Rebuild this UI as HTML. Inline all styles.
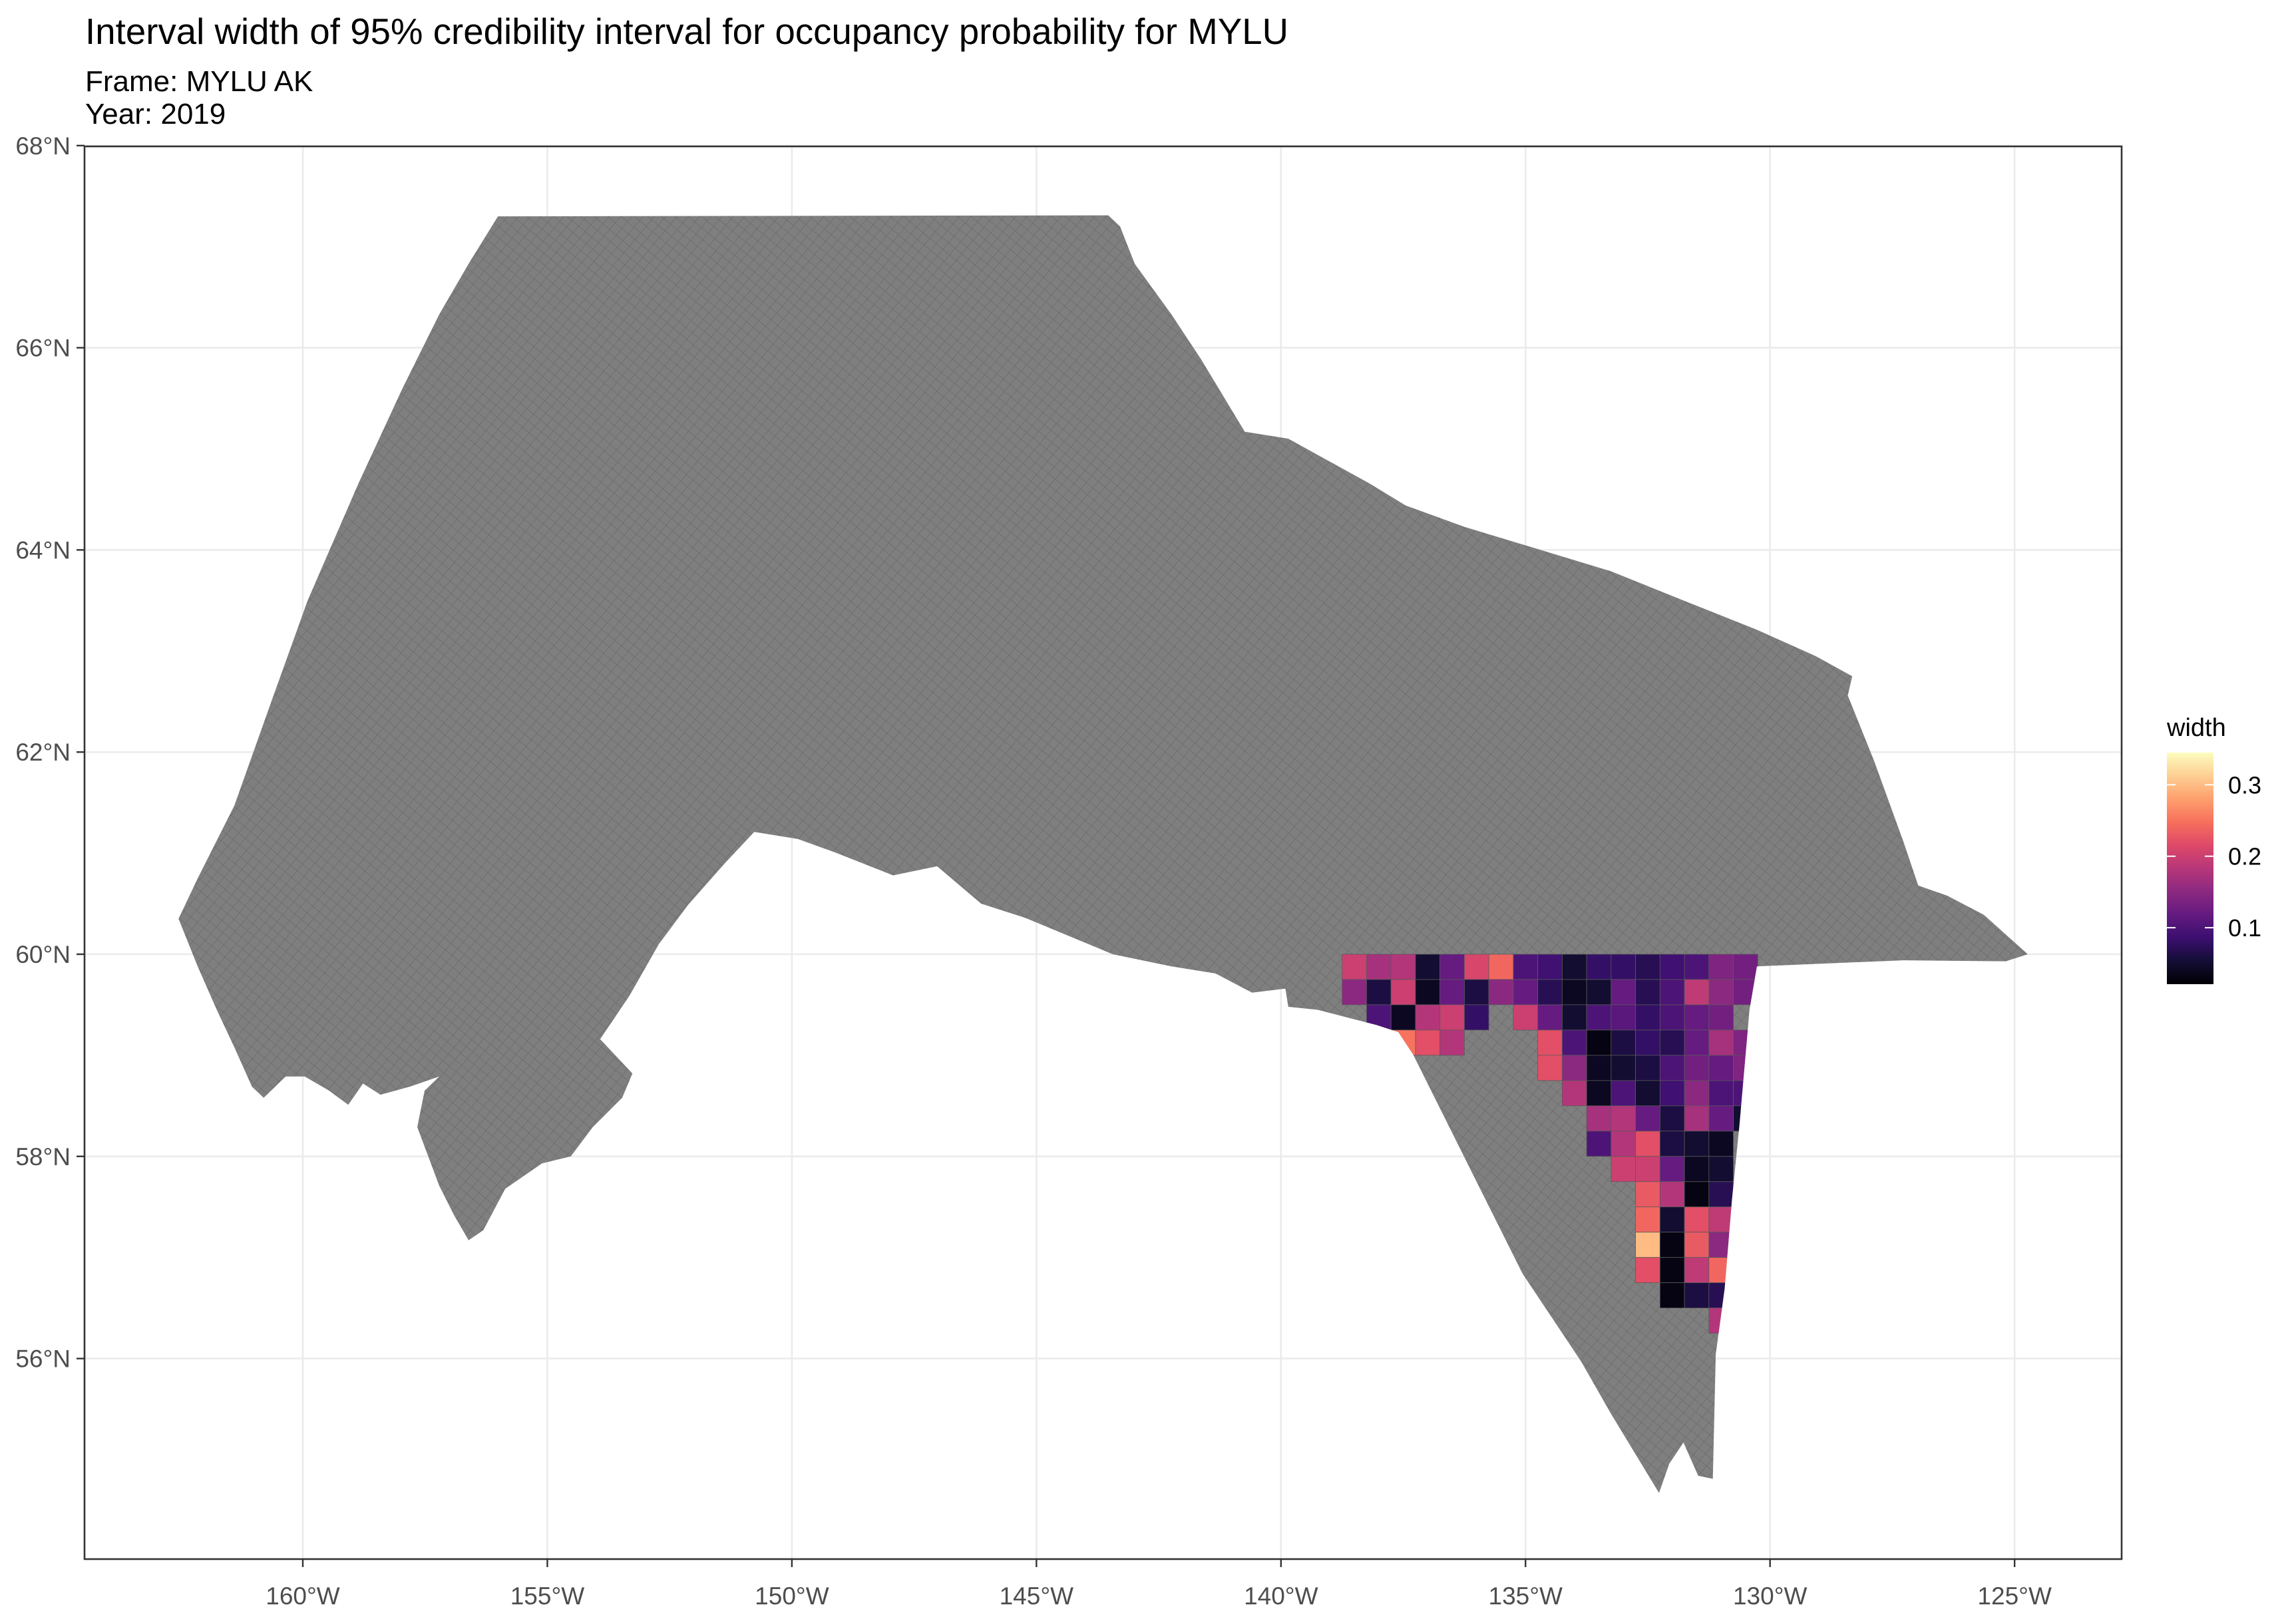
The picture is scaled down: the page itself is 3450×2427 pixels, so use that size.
<!DOCTYPE html>
<html><head><meta charset="utf-8"><title>MYLU interval width</title>
<style>
html,body{margin:0;padding:0;background:#fff;}
svg{display:block;font-family:"Liberation Sans",Arial,sans-serif;}
</style></head>
<body>
<svg id="chart" width="3450" height="2427" viewBox="0 0 3450 2427" xmlns="http://www.w3.org/2000/svg">
<defs>
<pattern id="cellgrid" width="13" height="13" patternUnits="userSpaceOnUse" patternTransform="rotate(40)">
<rect width="13" height="13" fill="#7f7f7f"/>
<path d="M0 0H13M0 0V13" stroke="#666" stroke-width="1.2"/>
</pattern>
<linearGradient id="magma" x1="0" y1="1" x2="0" y2="0">
<stop offset="0" stop-color="#000004"/><stop offset="0.1" stop-color="#140e36"/>
<stop offset="0.2" stop-color="#3b0f70"/><stop offset="0.3" stop-color="#641a80"/>
<stop offset="0.4" stop-color="#8c2981"/><stop offset="0.5" stop-color="#b73779"/>
<stop offset="0.6" stop-color="#de4968"/><stop offset="0.7" stop-color="#f7705c"/>
<stop offset="0.8" stop-color="#fe9f6d"/><stop offset="0.9" stop-color="#fecf92"/>
<stop offset="1" stop-color="#fcfdbf"/>
</linearGradient>
<clipPath id="regionclip"><polygon id="clipPoly"/></clipPath>
</defs>
<text x="128" y="66" font-size="54.5" fill="#000" textLength="1808">Interval width of 95% credibility interval for occupancy probability for MYLU</text>
<text x="128" y="137" font-size="44" fill="#000">Frame: MYLU AK</text>
<text x="128" y="186" font-size="44" fill="#000">Year: 2019</text>
<g id="grid"></g>
<polygon id="region" fill="url(#cellgrid)"/>
<g id="cells" clip-path="url(#regionclip)"></g>
<rect x="127" y="220" width="3061" height="2123" fill="none" stroke="#333" stroke-width="2.6"/>
<g id="axes"></g>
<g id="legend">
<text x="3256" y="1106" font-size="38" fill="#000">width</text>
<rect x="3256" y="1131" width="70" height="348" fill="url(#magma)"/>
</g>
</svg>
<script>
const lonTicks = [-160, -155, -150, -145, -140, -135, -130, -125];
const lonLabels = ["160°W","155°W","150°W","145°W","140°W","135°W","130°W","125°W"];
const latTicks = [56, 58, 60, 62, 64, 66, 68];
const latLabels = ["56°N","58°N","60°N","62°N","64°N","66°N","68°N"];
const legendTicks = [0.1, 0.2, 0.3];
const legendLabels = ["0.1","0.2","0.3"];
const outlineLon = [-156.01,-143.53,-143.29,-142.99,-142.24,-141.64,-140.74,-139.85,-138.20,-137.45,-136.26,-134.76,-133.26,-131.77,-130.27,-129.07,-128.32,-128.41,-127.87,-127.27,-126.97,-126.38,-125.63,-124.73,-125.18,-127.27,-130.27,-130.42,-130.63,-130.78,-130.93,-131.11,-131.17,-131.47,-131.77,-132.06,-132.27,-133.26,-133.86,-135.06,-136.26,-137.30,-137.60,-138.05,-139.25,-139.85,-139.91,-140.59,-141.34,-142.24,-143.44,-145.23,-146.13,-147.03,-147.93,-149.13,-149.88,-150.77,-151.37,-152.12,-152.72,-153.32,-153.92,-153.26,-153.47,-154.07,-154.52,-155.11,-155.86,-156.31,-156.61,-156.91,-157.21,-157.66,-157.51,-157.21,-157.81,-158.41,-158.77,-159.07,-159.46,-159.96,-160.35,-160.80,-161.04,-161.40,-161.76,-162.15,-162.54,-162.15,-161.40,-160.65,-159.90,-158.86,-157.96,-157.21,-156.61];
const outlineLat = [67.30,67.31,67.20,66.83,66.33,65.89,65.17,65.10,64.66,64.44,64.23,64.01,63.79,63.50,63.21,62.95,62.75,62.56,61.91,61.11,60.68,60.58,60.39,60.00,59.93,59.94,59.88,59.45,58.29,57.57,56.69,56.04,54.81,54.84,55.17,54.96,54.67,55.46,55.97,56.84,58.00,59.01,59.23,59.30,59.45,59.48,59.66,59.62,59.81,59.88,60.00,60.36,60.50,60.87,60.78,61.01,61.14,61.21,60.90,60.49,60.10,59.59,59.16,58.82,58.58,58.29,58.00,57.93,57.68,57.27,57.17,57.42,57.71,58.29,58.65,58.79,58.69,58.61,58.72,58.51,58.65,58.79,58.79,58.58,58.69,59.08,59.45,59.88,60.35,60.75,61.47,62.49,63.50,64.66,65.60,66.33,66.83];
const cellLon0 = -138.75, cellLat0 = 60.0, cellDLon = 0.5, cellDLat = 0.25;
const cellRows = [
 [0.20,0.17,0.18,0.05,0.12,0.21,0.24,0.10,0.09,0.05,0.08,0.08,0.07,0.09,0.10,0.14,0.13],
 [0.15,0.06,0.20,0.04,0.12,0.06,0.15,0.12,0.07,0.04,0.05,0.12,0.07,0.10,0.19,0.15,0.13],
 [null,0.10,0.04,0.18,0.20,0.08,null,0.20,0.12,0.05,0.10,0.11,0.08,0.10,0.12,0.13,null],
 [null,null,0.25,0.22,0.18,null,null,null,0.22,0.10,0.03,0.06,0.08,0.07,0.12,0.17,0.14],
 [null,null,null,null,null,null,null,null,0.22,0.15,0.04,0.05,0.06,0.10,0.13,0.12,0.14],
 [null,null,null,null,null,null,null,null,null,0.18,0.04,0.10,0.05,0.09,0.15,0.10,0.10],
 [null,null,null,null,null,null,null,null,null,null,0.17,0.18,0.12,0.06,0.17,0.12,0.05],
 [null,null,null,null,null,null,null,null,null,null,0.10,0.18,0.22,0.06,0.05,0.04,null],
 [null,null,null,null,null,null,null,null,null,null,null,0.20,0.20,0.12,0.04,0.05,null],
 [null,null,null,null,null,null,null,null,null,null,null,null,0.23,0.18,0.03,0.07,null],
 [null,null,null,null,null,null,null,null,null,null,null,null,0.24,0.05,0.22,0.19,null],
 [null,null,null,null,null,null,null,null,null,null,null,null,0.30,0.03,0.23,0.15,null],
 [null,null,null,null,null,null,null,null,null,null,null,null,0.22,0.03,0.19,0.24,null],
 [null,null,null,null,null,null,null,null,null,null,null,null,null,0.03,0.06,0.07,null],
 [null,null,null,null,null,null,null,null,null,null,null,null,null,null,null,0.18,null]
];
const valMin = 0.021, valMax = 0.345;

const NS = "http://www.w3.org/2000/svg";
const X0 = 127, X1 = 3188, Y0 = 220, Y1 = 2343;
function xScale(lon){ return 455 + (lon + 160) * 73.49; }
function yScale(lat){ return 1434 - (lat - 60) * 151.9; }
function legY(v){ return 1479 - (v - valMin) / (valMax - valMin) * 348; }
const magmaStops = ["#000004","#140e36","#3b0f70","#641a80","#8c2981","#b73779","#de4968","#f7705c","#fe9f6d","#fecf92","#fcfdbf"];
function hex(c){ return [1,3,5].map(i=>parseInt(c.substr(i,2),16)); }
function magma(v){
  let t = Math.max(0, Math.min(1, (v - valMin) / (valMax - valMin))) * 10;
  let i = Math.min(9, Math.floor(t)), f = t - i;
  const a = hex(magmaStops[i]), b = hex(magmaStops[i+1]);
  return "rgb(" + a.map((x,k)=>Math.round(x + (b[k]-x)*f)).join(",") + ")";
}
function mk(tag, attrs, parent){
  const e = document.createElementNS(NS, tag);
  for (const k in attrs) e.setAttribute(k, attrs[k]);
  parent.appendChild(e); return e;
}
const grid = document.getElementById("grid");
const axes = document.getElementById("axes");
lonTicks.forEach((lon, i) => {
  const x = xScale(lon);
  const g = mk("line", {x1:x, x2:x, y1:Y0, y2:Y1, stroke:"#ebebeb", "stroke-width":2.6}, grid);
  
  
  const t = mk("line", {x1:x, x2:x, y1:Y1, y2:Y1+12, stroke:"#333", "stroke-width":2.4}, axes);
  
  
  const l = mk("text", {x:x, y:2411, "font-size":37, fill:"#4d4d4d", "text-anchor":"middle"}, axes);
  l.textContent = lonLabels[i];
  
  
});
latTicks.forEach((lat, i) => {
  const y = yScale(lat);
  const g = mk("line", {x1:X0, x2:X1, y1:y, y2:y, stroke:"#ebebeb", "stroke-width":2.6}, grid);
  
  
  const t = mk("line", {x1:X0-12, x2:X0, y1:y, y2:y, stroke:"#333", "stroke-width":2.4}, axes);
  
  
  const l = mk("text", {x:106, y:y+13, "font-size":37, fill:"#4d4d4d", "text-anchor":"end"}, axes);
  l.textContent = latLabels[i];
  
  
});
const pts = outlineLon.map((lon, i) => xScale(lon).toFixed(1) + "," + yScale(outlineLat[i]).toFixed(1)).join(" ");
document.getElementById("region").setAttribute("points", pts);
document.getElementById("clipPoly").setAttribute("points", pts);
const cells = document.getElementById("cells");
cellRows.forEach((row, j) => {
  row.forEach((v, i) => {
    if (v === null) return;
    const lonA = cellLon0 + i * cellDLon, latA = cellLat0 - j * cellDLat;
    const xa = xScale(lonA), xb = xScale(lonA + cellDLon);
    const ya = yScale(latA), yb = yScale(latA - cellDLat);
    const r = mk("rect", {x:xa, y:ya, width:xb-xa, height:yb-ya, fill:magma(v), stroke:"#5a5a5a", "stroke-width":0.8}, cells);
    
    
  });
});
const legend = document.getElementById("legend");
legendTicks.forEach((v, i) => {
  const y = legY(v);
  const a = mk("line", {x1:3256, x2:3269, y1:y, y2:y, stroke:"#fff", "stroke-width":2}, legend);
  
  
  const b = mk("line", {x1:3313, x2:3326, y1:y, y2:y, stroke:"#fff", "stroke-width":2}, legend);
  
  
  const l = mk("text", {x:3348, y:y+13, "font-size":36, fill:"#000"}, legend);
  l.textContent = legendLabels[i];
  
  
});
</script>
</body></html>
